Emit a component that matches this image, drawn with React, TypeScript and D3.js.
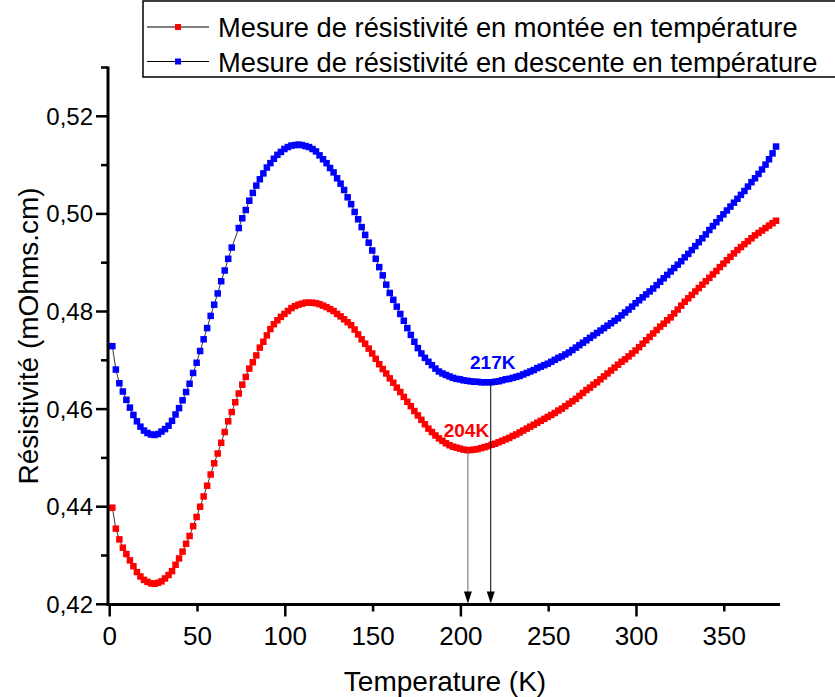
import React from 'react';
import * as d3 from 'd3';

// Temperatures of the measurement points (K), 2 K apart
const temperatures: number[] = d3.range(1.5, 380, 2);

// Resistivity (mOhms.cm), heating run (red)
const montee: number[] = [
  0.4398, 0.4355, 0.4333, 0.4316, 0.4303, 0.4290, 0.4278, 0.4266, 0.4257, 0.4250,
  0.4246, 0.4243, 0.4242, 0.4244, 0.4247, 0.4253, 0.4260, 0.4268, 0.4281, 0.4294,
  0.4308, 0.4324, 0.4340, 0.4360, 0.4379, 0.4400, 0.4421, 0.4443, 0.4466, 0.4489,
  0.4509, 0.4531, 0.4553, 0.4575, 0.4594, 0.4614, 0.4632, 0.4650, 0.4666, 0.4683,
  0.4696, 0.4710, 0.4726, 0.4738, 0.4751, 0.4764, 0.4774, 0.4782, 0.4789, 0.4795,
  0.4801, 0.4807, 0.4811, 0.4814, 0.4816, 0.4818, 0.4818, 0.4818, 0.4817, 0.4815,
  0.4812, 0.4809, 0.4805, 0.4801, 0.4795, 0.4790, 0.4784, 0.4778, 0.4772, 0.4763,
  0.4753, 0.4743, 0.4734, 0.4724, 0.4714, 0.4703, 0.4692, 0.4682, 0.4673, 0.4663,
  0.4654, 0.4644, 0.4635, 0.4625, 0.4615, 0.4606, 0.4596, 0.4587, 0.4578, 0.4569,
  0.4560, 0.4553, 0.4546, 0.4540, 0.4535, 0.4530, 0.4526, 0.4523, 0.4521, 0.4519,
  0.4517, 0.4516, 0.4516, 0.4517, 0.4518, 0.4520, 0.4522, 0.4524, 0.4527, 0.4529,
  0.4532, 0.4535, 0.4538, 0.4541, 0.4545, 0.4548, 0.4552, 0.4556, 0.4560, 0.4564,
  0.4568, 0.4572, 0.4576, 0.4580, 0.4584, 0.4588, 0.4592, 0.4597, 0.4601, 0.4606,
  0.4611, 0.4616, 0.4621, 0.4627, 0.4633, 0.4639, 0.4644, 0.4650, 0.4655, 0.4661,
  0.4667, 0.4673, 0.4679, 0.4685, 0.4691, 0.4697, 0.4702, 0.4708, 0.4714, 0.4720,
  0.4727, 0.4734, 0.4741, 0.4748, 0.4755, 0.4762, 0.4769, 0.4775, 0.4782, 0.4788,
  0.4796, 0.4804, 0.4812, 0.4820, 0.4827, 0.4834, 0.4841, 0.4848, 0.4855, 0.4862,
  0.4869, 0.4876, 0.4883, 0.4891, 0.4898, 0.4905, 0.4912, 0.4919, 0.4926, 0.4932,
  0.4938, 0.4944, 0.4950, 0.4956, 0.4961, 0.4966, 0.4971, 0.4976, 0.4981, 0.4986,
];

// Resistivity (mOhms.cm), cooling run (blue); null = missing point
const descente: (number | null)[] = [
  0.4729, 0.4681, 0.4653, 0.4636, 0.4619, 0.4603, 0.4588, 0.4575, 0.4564, 0.4556,
  0.4551, 0.4548, 0.4547, 0.4549, 0.4554, 0.4559, 0.4566, 0.4576, 0.4589, 0.4602,
  0.4618, 0.4635, 0.4652, 0.4674, 0.4695, 0.4719, 0.4743, 0.4766, 0.4791, 0.4814,
  0.4837, 0.4862, 0.4884, 0.4908, 0.4931, null, 0.4971, 0.4991, 0.5008, 0.5027,
  0.5043, 0.5058, 0.5071, 0.5083, 0.5095, 0.5104, 0.5113, 0.5121, 0.5127, 0.5133,
  0.5137, 0.5140, 0.5141, 0.5142, 0.5141, 0.5139, 0.5137, 0.5133, 0.5128, 0.5120,
  0.5112, 0.5104, 0.5094, 0.5085, 0.5073, 0.5062, 0.5049, 0.5034, 0.5020, 0.5004,
  0.4989, 0.4973, 0.4957, 0.4941, 0.4925, 0.4908, 0.4891, 0.4874, 0.4855, 0.4838,
  0.4824, 0.4810, 0.4795, 0.4781, 0.4766, 0.4752, 0.4738, 0.4725, 0.4714, 0.4705,
  0.4697, 0.4690, 0.4683, 0.4677, 0.4673, 0.4670, 0.4667, 0.4664, 0.4662, 0.4661,
  0.4659, 0.4658, 0.4657, 0.4656, 0.4656, 0.4655, 0.4655, 0.4655, 0.4655, 0.4656,
  0.4657, 0.4659, 0.4661, 0.4662, 0.4664, 0.4666, 0.4668, 0.4671, 0.4674, 0.4677,
  0.4680, 0.4684, 0.4687, 0.4690, 0.4693, 0.4697, 0.4701, 0.4705, 0.4708, 0.4712,
  0.4716, 0.4721, 0.4726, 0.4731, 0.4736, 0.4741, 0.4746, 0.4751, 0.4756, 0.4761,
  0.4766, 0.4771, 0.4776, 0.4781, 0.4786, 0.4792, 0.4798, 0.4804, 0.4810, 0.4817,
  0.4823, 0.4829, 0.4835, 0.4841, 0.4847, 0.4854, 0.4861, 0.4868, 0.4875, 0.4882,
  0.4889, 0.4896, 0.4903, 0.4911, 0.4918, 0.4926, 0.4934, 0.4942, 0.4950, 0.4958,
  0.4967, 0.4975, 0.4983, 0.4991, 0.4999, 0.5007, 0.5015, 0.5023, 0.5031, 0.5039,
  0.5047, 0.5056, 0.5065, 0.5073, 0.5082, 0.5091, 0.5101, 0.5112, 0.5124, 0.5138,
];

const xMajorTicks = [0, 100, 200, 300];
const xMinorTicks = [50, 150, 250, 350];
const xTickLabels = [0, 50, 100, 150, 200, 250, 300, 350];
const yMajorTicks = [0.42, 0.44, 0.46, 0.48, 0.50, 0.52];
const yMinorTicks = [0.43, 0.45, 0.47, 0.49, 0.51, 0.53];

const seriesNames = [
  'Mesure de résistivité en montée en température',
  'Mesure de résistivité en descente en température',
];
const seriesColors = ['#ff0000', '#0000ff'];

const minimaT = [204, 217];
const minimaV = [0.4516, 0.4655];
const minimaLabels = ['204K', '217K'];
const minimaColors = ['#ff0000', '#0000ff'];
const minimaLineColors = ['#666666', '#000000'];

const W = 835;
const H = 697;
const FONT = '"Liberation Sans", Arial, Helvetica, sans-serif';

const frFormat = d3.formatLocale({
  decimal: ',',
  thousands: ' ',
  grouping: [3],
  currency: ['', ' €'],
}).format('.2f');

export default function App() {
  const x = d3.scaleLinear().domain([0, 381]).range([109.7, 778.7]);
  const y = d3.scaleLinear().domain([0.42, 0.53]).range([604.3, 67.5]);

  const x0 = 108;
  const yBase = 604.5;

  const series = [montee, descente].map((vals) =>
    temperatures
      .map((t, i) => ({ t, v: vals[i] }))
      .filter((d) => d.v !== null && d.v !== undefined) as { t: number; v: number }[]
  );

  const line = d3
    .line<{ t: number; v: number }>()
    .x((d) => x(d.t))
    .y((d) => y(d.v));

  const ms = 6.5;

  return (
    <svg
      width={W}
      height={H}
      style={{ position: 'absolute', left: 0, top: 0, display: 'block', background: '#fff' }}
      fontFamily={FONT}
    >
      <rect x={0} y={0} width={W} height={H} fill="#fff" />

      {/* series: connecting line then square markers */}
      {series.map((pts, si) => (
        <g key={'s' + si}>
          <path d={line(pts) || ''} fill="none" stroke="#000" strokeWidth={0.8} />
          {pts.map((d, i) => (
            <rect
              key={i}
              x={x(d.t) - ms / 2}
              y={y(d.v) - ms / 2}
              width={ms}
              height={ms}
              fill={seriesColors[si]}
            />
          ))}
        </g>
      ))}

      {/* minima annotations */}
      {minimaT.map((t, i) => {
        const xx = x(t);
        return (
          <g key={'m' + i}>
            <line x1={xx} x2={xx} y1={y(minimaV[i])} y2={yBase - 12} stroke={minimaLineColors[i]} strokeWidth={1} />
            <path d={`M${xx - 4},${yBase - 13} L${xx + 4},${yBase - 13} L${xx},${yBase - 1} Z`} fill="#000" />
            <text
              x={xx + (i === 0 ? -1.5 : 2)}
              y={y(minimaV[i]) - 13}
              textAnchor="middle"
              fontSize={19}
              fontWeight="bold"
              fill={minimaColors[i]}
            >
              {minimaLabels[i]}
            </text>
          </g>
        );
      })}

      {/* axes */}
      <line x1={x0 - 1.5} x2={780} y1={yBase} y2={yBase} stroke="#000" strokeWidth={3} />
      <line x1={x0} x2={x0} y1={yBase + 1.5} y2={y(0.53) - 1} stroke="#000" strokeWidth={3} />

      {xMajorTicks.map((t) => (
        <line key={'xM' + t} x1={x(t)} x2={x(t)} y1={yBase} y2={yBase + 12} stroke="#000" strokeWidth={2.5} />
      ))}
      {xMinorTicks.map((t) => (
        <line key={'xm' + t} x1={x(t)} x2={x(t)} y1={yBase} y2={yBase + 7} stroke="#000" strokeWidth={2.5} />
      ))}
      {xTickLabels.map((t) => (
        <text key={'xl' + t} x={x(t)} y={645} textAnchor="middle" fontSize={26} fill="#000">
          {t}
        </text>
      ))}

      {yMajorTicks.map((v) => (
        <line key={'yM' + v} x1={x0 - 12} x2={x0} y1={y(v)} y2={y(v)} stroke="#000" strokeWidth={2.5} />
      ))}
      {yMinorTicks.map((v) => (
        <line key={'ym' + v} x1={x0 - 7} x2={x0} y1={y(v)} y2={y(v)} stroke="#000" strokeWidth={2.5} />
      ))}
      {yMajorTicks.map((v) => (
        <text key={'yl' + v} x={93} y={y(v) + 8.5} textAnchor="end" fontSize={24} fill="#000">
          {frFormat(v)}
        </text>
      ))}

      <text x={445} y={691} textAnchor="middle" fontSize={28} fill="#000">
        Temperature (K)
      </text>
      <text
        transform={`translate(38, ${(y(0.42) + y(0.53)) / 2}) rotate(-90)`}
        textAnchor="middle"
        fontSize={28}
        fill="#000"
      >
        Résistivité (mOhms.cm)
      </text>

      {/* legend */}
      <rect x={143} y={1} width={W} height={76} fill="#fff" stroke="#000" strokeWidth={1.5} />
      {seriesNames.map((name, i) => {
        const cy = 27 + i * 34.5;
        return (
          <g key={'lg' + i}>
            <line x1={147} x2={209} y1={cy} y2={cy} stroke="#000" strokeWidth={1} />
            <rect x={178 - 3} y={cy - 3} width={6} height={6} fill={seriesColors[i]} />
            <text x={218} y={cy + 10} fontSize={27.3} fill="#000">
              {name}
            </text>
          </g>
        );
      })}
    </svg>
  );
}
